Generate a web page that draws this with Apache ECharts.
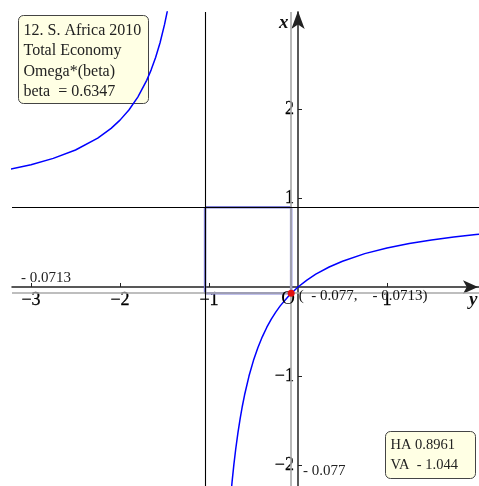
<!DOCTYPE html>
<html>
<head>
<meta charset="utf-8">
<script src="https://cdn.jsdelivr.net/npm/echarts@6/dist/echarts.min.js"></script>
<style>
  html, body { margin: 0; padding: 0; background: #ffffff; }
  #chart { width: 479px; height: 486px; }
</style>
</head>
<body>
<div id="chart"></div>
<script>
// Omega*(beta) hyperbola, S. Africa 2010, total economy
const titleLines = ['12. S. Africa 2010', 'Total Economy', 'Omega*(beta)'];
const beta = 0.6347;
const horizontalAsymptote = 0.8961;   // HA (value on the vertical x axis)
const verticalAsymptote = -1.044;     // VA (value on the horizontal y axis)
const vertex = [-0.077, -0.0713];     // (y, x) vertex of the right branch

// sampled branches, [y, x]
const leftBranch = [
  [-3.25, 1.320], [-3.0, 1.374], [-2.75, 1.445], [-2.5, 1.539], [-2.25, 1.672],
  [-2.1, 1.782], [-2.0, 1.875], [-1.9, 1.989], [-1.8, 2.134], [-1.7, 2.322],
  [-1.65, 2.440], [-1.6, 2.579], [-1.55, 2.745], [-1.5, 2.948], [-1.47, 3.092],
  [-1.44, 3.258]
];
const rightBranch = [
  [-0.76, -2.398], [-0.74, -2.181], [-0.72, -1.991], [-0.70, -1.823], [-0.675, -1.639],
  [-0.65, -1.478], [-0.625, -1.337], [-0.6, -1.211], [-0.55, -0.998], [-0.5, -0.824],
  [-0.45, -0.679], [-0.4, -0.557], [-0.35, -0.452], [-0.3, -0.361], [-0.25, -0.282],
  [-0.2, -0.212], [-0.1, -0.095], [0, 0.000], [0.1, 0.078], [0.2, 0.144],
  [0.35, 0.225], [0.5, 0.290], [0.75, 0.375], [1.0, 0.438], [1.25, 0.488],
  [1.5, 0.528], [1.75, 0.561], [2.0, 0.589], [2.1, 0.599]
];
// symmetry axis through the centre and the vertex
const diagonalEnds = [[-3.25, 3.102], [2.1, -2.248]];

const xTicks = [-3, -2, -1, 1];
const yTicks = [-2, -1, 1, 2];

const SERIF = '"Liberation Serif", "DejaVu Serif", serif';
const fmtTick = v => (v < 0 ? '\u2212' + (-v) : String(v));
const fmtSigned = v => (v < 0 ? '- ' + Math.abs(v) : String(v));

const rectangle = [
  [verticalAsymptote, horizontalAsymptote],
  [vertex[0], horizontalAsymptote],
  [vertex[0], vertex[1]],
  [verticalAsymptote, vertex[1]],
  [verticalAsymptote, horizontalAsymptote]
];

const chart = echarts.init(document.getElementById('chart'), null, { renderer: 'canvas' });

const axisCommon = {
  type: 'value',
  splitLine: { show: false },
  axisLine: { onZero: true, lineStyle: { color: '#222', width: 1.5 } },
  axisTick: { show: true, inside: true, length: 4, lineStyle: { color: '#222', width: 1 } },
  axisLabel: { show: false }
};

const tickLabelStyle = { fontFamily: SERIF, fontSize: 18, color: '#000', textBorderColor: '#000', textBorderWidth: 0.3 };

// labels that sit on data positions, drawn as an invisible line
function labelSeries(points, label, z) {
  return {
    type: 'line', data: points, z: z, silent: true,
    symbol: 'circle', symbolSize: 0, showSymbol: true, showAllSymbol: true,
    lineStyle: { width: 0, opacity: 0 }, itemStyle: { opacity: 1 },
    label: Object.assign({ show: true }, label)
  };
}

chart.setOption({
  animation: false,
  backgroundColor: '#ffffff',
  grid: { left: 12, top: 12, width: 467, height: 474, containLabel: false, outerBoundsMode: 'none' },
  xAxis: Object.assign({}, axisCommon, {
    min: -3.2135, max: 2.0337,
    axisLine: Object.assign({}, axisCommon.axisLine, { symbol: ['none', 'arrow'], symbolSize: [10, 15], symbolOffset: [0, -1] }),
    axisTick: Object.assign({}, axisCommon.axisTick, { customValues: xTicks })
  }),
  yAxis: Object.assign({}, axisCommon, {
    min: -2.236, max: 3.0899,
    axisLine: Object.assign({}, axisCommon.axisLine, { symbol: ['none', 'arrow'], symbolSize: [10, 18], symbolOffset: [0, 1] }),
    axisTick: Object.assign({}, axisCommon.axisTick, { customValues: yTicks })
  }),
  series: [
    {
      // grey guides through the vertex
      type: 'line', data: [], z: 1, silent: true,
      markLine: {
        symbol: 'none', silent: true, label: { show: false },
        lineStyle: { color: '#a8a8a8', width: 1.6, type: 'solid' },
        data: [{ xAxis: vertex[0] }, { yAxis: vertex[1] }]
      }
    },
    {
      type: 'line', data: rectangle, z: 3, silent: true, symbol: 'none',
      lineStyle: { color: '#8080d8', width: 2.5 }
    },
    {
      // asymptotes and symmetry axis
      type: 'line', data: [], z: 4, silent: true,
      markLine: {
        symbol: 'none', silent: true, label: { show: false },
        lineStyle: { color: '#000', width: 1.1, type: 'solid' },
        data: [
          { yAxis: horizontalAsymptote },
          { xAxis: verticalAsymptote },
          [{ coord: diagonalEnds[0] }, { coord: diagonalEnds[1] }]
        ]
      }
    },
    {
      type: 'line', data: leftBranch, z: 5, symbol: 'none', silent: true,
      lineStyle: { color: '#0000ff', width: 1.5 }
    },
    {
      type: 'line', data: rightBranch, z: 5, symbol: 'none', silent: true,
      lineStyle: { color: '#0000ff', width: 1.5 }
    },
    {
      type: 'scatter', data: [vertex], z: 10, symbolSize: 7, silent: true,
      itemStyle: { color: '#e01010', opacity: 1 },
      label: {
        show: true, position: 'right', distance: 4, offset: [0, 3],
        fontFamily: SERIF, fontSize: 15, color: '#111',
        formatter: '(  ' + fmtSigned(vertex[0]) + ',    ' + fmtSigned(vertex[1]) + ')'
      }
    },
    // tick labels on the horizontal y axis
    labelSeries(xTicks.map(v => [v, 0]),
      Object.assign({ position: 'bottom', distance: 4, formatter: p => fmtTick(p.value[0]) }, tickLabelStyle), 2),
    // tick labels on the vertical x axis
    labelSeries(yTicks.map(v => [0, v]),
      Object.assign({ position: 'left', distance: 4, formatter: p => fmtTick(p.value[1]) }, tickLabelStyle), 2),
    // origin mark
    labelSeries([[0, 0]],
      { position: 'inside', offset: [-10, 12], fontFamily: SERIF, fontSize: 19, color: '#000', formatter: 'O' }, 6)
  ],
  graphic: [
    { type: 'text', left: 279, top: 14, z: 50,
      style: { text: 'x', font: 'italic bold 19px ' + SERIF, fill: '#111' } },
    { type: 'text', left: 469, top: 291, z: 50,
      style: { text: 'y', font: 'italic bold 19px ' + SERIF, fill: '#111' } },
    { type: 'text', left: 21, top: 271, z: 50,
      style: { text: fmtSigned(vertex[1]), font: '15px ' + SERIF, fill: '#222' } },
    { type: 'text', left: 303, top: 464, z: 50,
      style: { text: fmtSigned(vertex[0]), font: '15px ' + SERIF, fill: '#222' } },
    {
      type: 'group', left: 18, top: 15, z: 100,
      children: [
        { type: 'rect', shape: { x: 0, y: 0, width: 130, height: 88, r: 5 },
          style: { fill: '#ffffe4', stroke: '#444', lineWidth: 1 } },
        { type: 'text', x: 5, y: 7, style: { text: titleLines[0], font: '16px ' + SERIF, fill: '#222' } },
        { type: 'text', x: 5, y: 27, style: { text: titleLines[1], font: '16px ' + SERIF, fill: '#222' } },
        { type: 'text', x: 5, y: 48, style: { text: titleLines[2], font: '16px ' + SERIF, fill: '#222' } },
        { type: 'text', x: 5, y: 68, style: { text: 'beta  = ' + beta, font: '16px ' + SERIF, fill: '#222' } }
      ]
    },
    {
      type: 'group', left: 385, top: 431, z: 100,
      children: [
        { type: 'rect', shape: { x: 0, y: 0, width: 90, height: 47, r: 5 },
          style: { fill: '#ffffe4', stroke: '#444', lineWidth: 1 } },
        { type: 'text', x: 5, y: 6, style: { text: 'HA ' + horizontalAsymptote, font: '14.5px ' + SERIF, fill: '#222' } },
        { type: 'text', x: 5, y: 26, style: { text: 'VA  ' + fmtSigned(verticalAsymptote), font: '14.5px ' + SERIF, fill: '#222' } }
      ]
    }
  ]
});
</script>
</body>
</html>
